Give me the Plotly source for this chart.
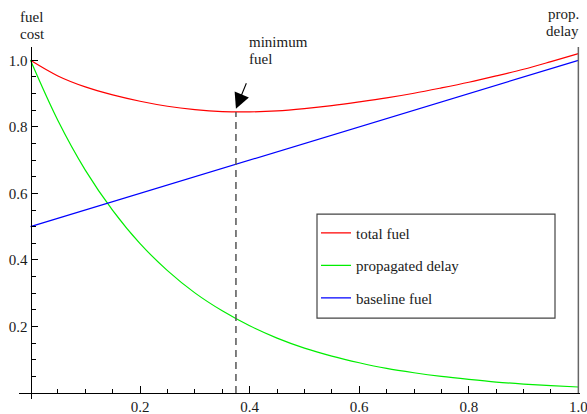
import plotly.graph_objects as go

# ---------------- data ----------------
x_vals = [0.00, 0.05, 0.10, 0.15, 0.20, 0.25, 0.30, 0.35, 0.40, 0.45, 0.50,
          0.55, 0.60, 0.65, 0.70, 0.75, 0.80, 0.85, 0.90, 0.95, 1.00]
total_fuel = [1.000, 0.953, 0.920, 0.896, 0.877, 0.862, 0.852, 0.846, 0.845, 0.848, 0.855,
              0.864, 0.875, 0.887, 0.901, 0.917, 0.934, 0.953, 0.973, 0.996, 1.020]
propagated_delay = [1.000, 0.819, 0.670, 0.549, 0.449, 0.368, 0.301, 0.247, 0.202, 0.165, 0.135,
                    0.111, 0.091, 0.074, 0.061, 0.050, 0.041, 0.033, 0.027, 0.022, 0.018]
baseline_x = [0.0, 1.0]
baseline_fuel = [0.5, 1.0]
min_x = 0.375
min_y = 0.845

major_ticks = [0.2, 0.4, 0.6, 0.8, 1.0]
major_labels = ["0.2", "0.4", "0.6", "0.8", "1.0"]
minor_ticks = [0.05, 0.1, 0.15, 0.25, 0.3, 0.35, 0.45, 0.5, 0.55, 0.65, 0.7, 0.75, 0.85, 0.9, 0.95]

# ---------------- layout geometry ----------------
W, H = 587, 414
XR = [-0.021, 1.003]
YR = [-0.018, 1.04]
ML, MR, MT, MB = 19.0, 7.0, 46.7, 15.0
pw = W - ML - MR
ph = H - MT - MB

def pxx(px):  # pixel -> paper x
    return (px - ML) / pw

def pyy(py):  # pixel -> paper y
    return 1 - (py - MT) / ph

def py2y(py):
    return YR[1] - (py - MT) / ph * (YR[1] - YR[0])

FONT = "Liberation Serif, Times New Roman, serif"
TXT = "#1a1a1a"

fig = go.Figure()
fig.add_trace(go.Scatter(x=x_vals, y=total_fuel, mode="lines", name="total fuel",
                         line=dict(color="#ff0000", width=1.2, shape="spline", smoothing=1.0),
                         legendgroup="a"))
fig.add_trace(go.Scatter(x=x_vals, y=propagated_delay, mode="lines", name="propagated delay",
                         line=dict(color="#00ee00", width=1.2, shape="spline"), legendgroup="b"))
fig.add_trace(go.Scatter(x=baseline_x, y=baseline_fuel, mode="lines", name="baseline fuel",
                         line=dict(color="#0000ff", width=1.2), legendgroup="c"))

# right frame line at x=1 and dashed minimum marker
fig.add_shape(type="line", x0=1.0, x1=1.0, y0=0, y1=YR[1], xref="x", yref="y",
              line=dict(color="#666666", width=1.5))
fig.add_shape(type="line", x0=min_x, x1=min_x, y0=0, y1=min_y, xref="x", yref="y",
              line=dict(color="#555555", width=1.5, dash="7px,5px"))
# legend frame
fig.add_shape(type="rect", x0=pxx(317), x1=pxx(555), y0=pyy(318), y1=pyy(214),
              xref="paper", yref="paper", line=dict(color="#444444", width=1.2),
              fillcolor="rgba(0,0,0,0)")

ann = []
def txt(s, px, py, xanchor):
    ann.append(dict(x=pxx(px), y=pyy(py), xref="paper", yref="paper", text=s, showarrow=False,
                    xanchor=xanchor, yanchor="middle",
                    font=dict(family=FONT, size=15, color=TXT)))

txt("fuel", 18, 16.7, "left")
txt("cost", 18, 33.3, "left")
txt("prop.", 581, 13.3, "right")
txt("delay", 581, 31, "right")
txt("minimum", 247, 41.7, "left")
txt("fuel", 247, 58.3, "left")

ann.append(dict(x=min_x, y=py2y(108.5), xref="x", yref="y", text="", showarrow=True,
                ax=11, ay=-27, arrowhead=2, arrowsize=2.8, arrowwidth=1.1, arrowcolor="#000000"))

common_axis = dict(showgrid=False, zeroline=False, showline=True, linecolor="#000000",
                   linewidth=1.2, ticks="inside", ticklen=6.5, tickwidth=1, tickcolor="#000000",
                   tickmode="array", tickvals=major_ticks, ticktext=major_labels,
                   tickfont=dict(family=FONT, size=15, color=TXT),
                   ticklabeloverflow="allow", automargin=False,
                   minor=dict(tickmode="array", tickvals=minor_ticks, ticks="inside",
                              ticklen=4, tickwidth=1, tickcolor="#000000"))

fig.update_layout(
    width=W, height=H,
    font=dict(family=FONT, size=15, color=TXT),
    margin=dict(l=ML, r=MR, t=MT, b=MB, autoexpand=False),
    paper_bgcolor="white", plot_bgcolor="white",
    xaxis=dict(range=XR, anchor="free", position=(0 - YR[0]) / (YR[1] - YR[0]), **common_axis),
    yaxis=dict(range=YR, anchor="free", position=(0 - XR[0]) / (XR[1] - XR[0]), **common_axis),
    showlegend=True,
    legend=dict(x=pxx(316), y=pyy(216.5), xanchor="left", yanchor="top",
                borderwidth=0, bgcolor="rgba(0,0,0,0)",
                font=dict(family=FONT, size=15, color=TXT),
                tracegroupgap=10, itemwidth=30),
    annotations=ann,
)

fig.write_html("out.html", config={"displayModeBar": False},
               post_script="document.body.style.margin='0';document.body.style.overflow='hidden';")
